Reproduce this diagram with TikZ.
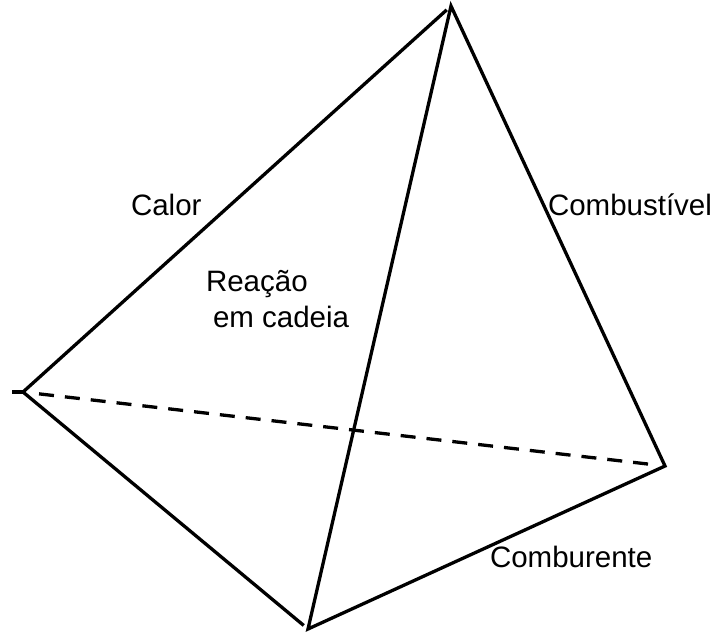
\documentclass[tikz,border=0pt]{standalone}
\usepackage{fontspec}
\setmainfont{Liberation Sans}
\usetikzlibrary{calc}
\begin{document}
\begin{tikzpicture}[x=1pt,y=-1pt,
  edge/.style={line width=3.3pt,line join=miter},
  hidden/.style={line width=3.3pt,dash pattern=on 15pt off 11pt},
  lbl/.style={anchor=base west,inner sep=0pt,outer sep=0pt,font=\fontsize{29.5}{36}\selectfont}]
\useasboundingbox (0,0) rectangle (719,632);
\coordinate (A) at (451,6);
\coordinate (L) at (23,392);
\coordinate (R) at (665,466);
\coordinate (B) at (308,629);
\coordinate (T) at (12,392);
\coordinate (Ae) at ($(L)!0.99!(A)$);
\coordinate (Be) at ($(L)!0.985!(B)$);
\coordinate (Ds) at ($(L)!0.025!(R)$);
\coordinate (De) at ($(L)!0.985!(R)$);
\draw[edge] (A) -- (B) -- (R) -- cycle;
\draw[edge] (Ae) -- (L) -- (Be);
\draw[edge] (T) -- (L);
\draw[hidden] (Ds) -- (De);
\node[lbl] (calor) at (131,215) {Calor};
\node[lbl] (comb) at (548,215) {Combustível};
\node[lbl,align=left] (reac) at (206,327) {Reação\\\hspace*{7pt}em cadeia};
\node[lbl] (comburente) at (490,567) {Comburente};
\end{tikzpicture}
\end{document}
